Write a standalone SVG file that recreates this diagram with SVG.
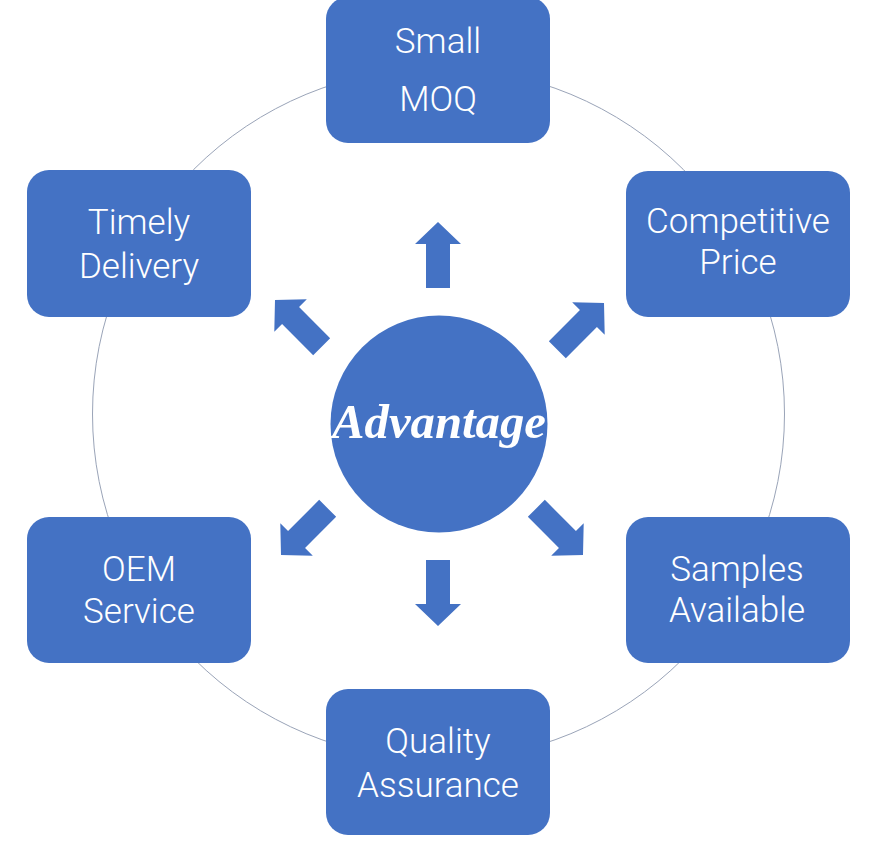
<svg xmlns="http://www.w3.org/2000/svg" width="884" height="851" viewBox="0 0 884 851">
<style>
.box{fill:#4472C4;}
.lbl{font-family:Roboto,"Liberation Sans",sans-serif;font-size:35px;font-weight:300;fill:#ffffff;text-anchor:middle;}
.arr{fill:#4472C4;}
.ring{fill:none;stroke:#9aa4b8;stroke-width:1;}
</style>
<defs>
<path id="arrow" d="M0,0 L23,22 L12,22 L12,66 L-12,66 L-12,22 L-23,22 Z"/>
</defs>
<rect width="884" height="851" fill="#ffffff"/>
<g id="connectors">
<circle class="ring" cx="438.5" cy="414" r="346"/>
<use href="#arrow" class="arr" transform="translate(438,222)"/>
<use href="#arrow" class="arr" transform="translate(438,626) rotate(180)"/>
<use href="#arrow" class="arr" transform="translate(275,300) rotate(-45)"/>
<use href="#arrow" class="arr" transform="translate(604,303) rotate(45)"/>
<use href="#arrow" class="arr" transform="translate(281,555) rotate(-135)"/>
<use href="#arrow" class="arr" transform="translate(583,555) rotate(135)"/>
</g>
<g id="center">
<circle cx="439" cy="424" r="108.5" fill="#4472C4"/>
<text x="439" y="438" font-family="'Liberation Serif',serif" font-style="italic" font-weight="bold" font-size="48" fill="#ffffff" text-anchor="middle" textLength="214" lengthAdjust="spacingAndGlyphs">Advantage</text>
</g>
<g id="small-moq">
<rect class="box" x="326" y="-3" width="224" height="146" rx="22"/>
<text class="lbl" x="438" y="53">Small</text>
<text class="lbl" x="438" y="111">MOQ</text>
</g>
<g id="timely-delivery">
<rect class="box" x="27" y="170" width="224" height="147" rx="22"/>
<text class="lbl" x="139" y="234">Timely</text>
<text class="lbl" x="139" y="278">Delivery</text>
</g>
<g id="competitive-price">
<rect class="box" x="626" y="171" width="224" height="146" rx="22"/>
<text class="lbl" x="738" y="233">Competitive</text>
<text class="lbl" x="738" y="274">Price</text>
</g>
<g id="oem-service">
<rect class="box" x="27" y="517" width="224" height="146" rx="22"/>
<text class="lbl" x="139" y="581">OEM</text>
<text class="lbl" x="139" y="623">Service</text>
</g>
<g id="samples-available">
<rect class="box" x="626" y="517" width="224" height="146" rx="22"/>
<text class="lbl" x="737" y="581">Samples</text>
<text class="lbl" x="737" y="622">Available</text>
</g>
<g id="quality-assurance">
<rect class="box" x="326" y="689" width="224" height="146" rx="22"/>
<text class="lbl" x="438" y="753">Quality</text>
<text class="lbl" x="438" y="797">Assurance</text>
</g>
</svg>
